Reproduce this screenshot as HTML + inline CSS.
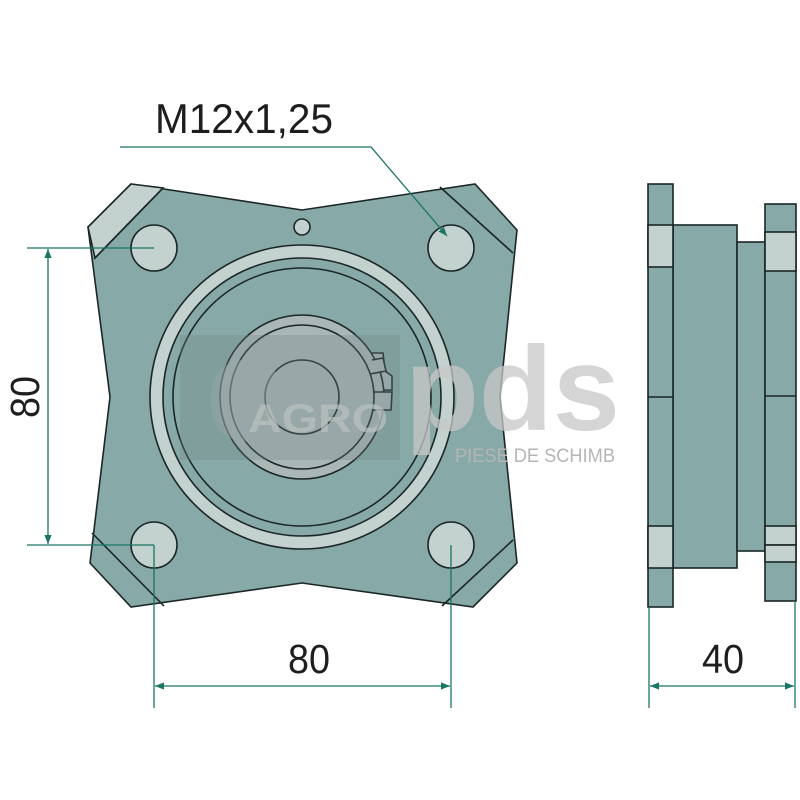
<!DOCTYPE html>
<html><head><meta charset="utf-8"><style>html,body{margin:0;padding:0;background:#fff}svg{display:block}</style></head>
<body>
<svg width="800" height="800" viewBox="0 0 800 800" xmlns="http://www.w3.org/2000/svg">
<defs>
<marker id="a" viewBox="0 0 10 10" refX="10" refY="5" markerWidth="9" markerHeight="9" orient="auto-start-reverse" markerUnits="userSpaceOnUse"><path d="M0,1 L10,5 L0,9 Z" fill="#1a7565"/></marker>
</defs>
<g stroke="#1b2626" stroke-width="1.6">
<path d="M131,184 L302,210 L475,184 L517,230 L500,397 L517,563 L473,607 L302,583 L131,607 L90,563 L110,397 L88,227 Z" fill="#87a9a7"/>
<path d="M131,184 L163,188 L95,258 L88,227 Z" fill="#c3d1cf"/>
<line x1="163" y1="188" x2="94" y2="259"/>
<line x1="440" y1="187" x2="513" y2="253"/>
<line x1="92" y1="533" x2="164" y2="606"/>
<line x1="513" y1="540" x2="442" y2="606"/>
<circle cx="154" cy="248" r="23" fill="#c3d1cf"/>
<circle cx="451" cy="248" r="23" fill="#c3d1cf"/>
<circle cx="154" cy="545" r="23" fill="#c3d1cf"/>
<circle cx="451" cy="545" r="23" fill="#c3d1cf"/>
<circle cx="302" cy="227" r="8" fill="#c3d1cf"/>
<circle cx="302" cy="397" r="152" fill="#c3d1cf"/>
<circle cx="302" cy="397" r="139" fill="#87a9a7"/>
<circle cx="302" cy="397" r="129" fill="#87a9a7"/>
</g>
<g stroke="#1b2626" stroke-width="1.6">
<path d="M365,353 L383,353 L385,371 L392,376 L392,390 L378,390" fill="#a9b7b6"/>
<circle cx="302" cy="397" r="82" fill="#a9b7b6"/>
<path d="M372,360 L383,358 L386,371 L370,374 M372,392 L392,392 L391,410 L370,410" fill="#a9b7b6"/>
<circle cx="302" cy="397" r="72" fill="#a9b7b6"/>
<circle cx="302" cy="397" r="37" fill="#a9b7b6"/>
</g>
<rect x="180" y="335" width="220" height="125" fill="#6f8583" opacity="0.3"/>
<text x="205" y="440" font-family="Liberation Sans,sans-serif" font-weight="bold" font-size="150" fill="#9aa9a8" opacity="0.45">e</text>
<text x="248" y="432" font-family="Liberation Sans,sans-serif" font-weight="bold" font-size="40" fill="#b9c3c2" opacity="0.7" textLength="140" lengthAdjust="spacingAndGlyphs">AGRO</text>
<text x="405" y="430" font-family="Liberation Sans,sans-serif" font-weight="bold" font-size="120" fill="#c8c8c8" opacity="0.75" textLength="215" lengthAdjust="spacingAndGlyphs">pds</text>
<text x="455" y="462" font-family="Liberation Sans,sans-serif" font-size="19" fill="#b5b5b5" textLength="160" lengthAdjust="spacingAndGlyphs">PIESE DE SCHIMB</text>
<g stroke="#1b2626" stroke-width="1.6" fill="#87a9a7">
<rect x="673" y="225" width="64" height="343"/>
<rect x="737" y="242" width="28" height="309"/>
<rect x="648" y="184" width="25" height="423"/>
<rect x="648" y="225" width="25" height="42" fill="#c3d1cf"/>
<rect x="648" y="526" width="25" height="42" fill="#c3d1cf"/>
<line x1="648" y1="397" x2="673" y2="397"/>
<rect x="765" y="204" width="31" height="397"/>
<rect x="765" y="232" width="31" height="39" fill="#c3d1cf"/>
<rect x="765" y="526" width="31" height="19" fill="#c3d1cf"/>
<rect x="765" y="545" width="31" height="17" fill="#c3d1cf"/>
<line x1="765" y1="396" x2="796" y2="396"/>
</g>
<g stroke="#1a7565" stroke-width="1.3" fill="none">
<polyline points="120,147 371,147 447,236" marker-end="url(#a)"/>
<line x1="27" y1="248" x2="154" y2="248"/>
<line x1="27" y1="545" x2="154" y2="545"/>
<line x1="48" y1="249" x2="48" y2="544" marker-start="url(#a)" marker-end="url(#a)"/>
<line x1="154" y1="545" x2="154" y2="708"/>
<line x1="451" y1="545" x2="451" y2="708"/>
<line x1="155" y1="686" x2="450" y2="686" marker-start="url(#a)" marker-end="url(#a)"/>
<line x1="649" y1="607" x2="649" y2="708"/>
<line x1="795" y1="601" x2="795" y2="708"/>
<line x1="650" y1="686" x2="794" y2="686" marker-start="url(#a)" marker-end="url(#a)"/>
</g>
<g font-family="Liberation Sans,sans-serif" fill="#1e1e1e">
<text x="155" y="133" font-size="42" textLength="178" lengthAdjust="spacingAndGlyphs">M12x1,25</text>
<text x="288" y="673" font-size="41" textLength="42" lengthAdjust="spacingAndGlyphs">80</text>
<text x="702" y="673" font-size="41" textLength="42" lengthAdjust="spacingAndGlyphs">40</text>
<text transform="translate(39,418) rotate(-90)" font-size="41" textLength="42" lengthAdjust="spacingAndGlyphs">80</text>
</g>
</svg>
</body></html>
